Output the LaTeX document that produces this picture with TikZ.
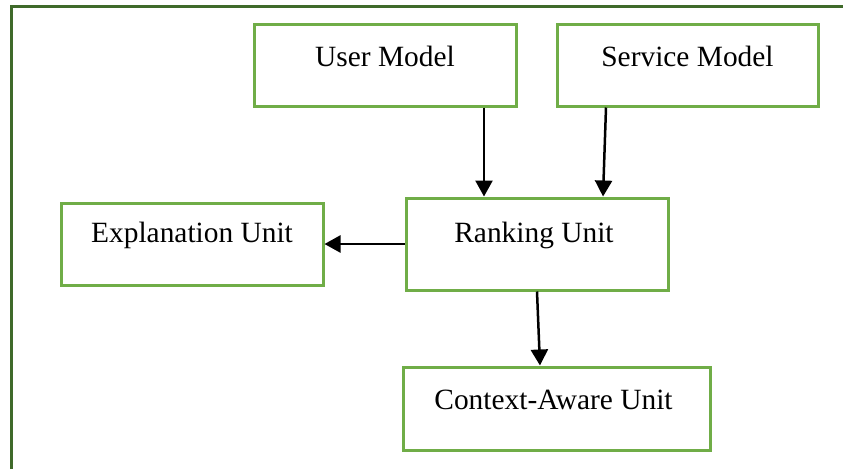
\documentclass[tikz,border=0pt]{standalone}
\usepackage{fontspec}
\setmainfont{Liberation Serif}
\usetikzlibrary{arrows.meta}
\definecolor{boxgreen}{HTML}{70AD47}
\definecolor{framegreen}{HTML}{3F6A2A}
\begin{document}
\begin{tikzpicture}[x=1pt,y=-1pt,
  box/.style={draw=boxgreen, line width=3pt, rectangle, inner sep=0pt},
  arr/.style={draw=black, line width=2.5pt, -{Triangle[length=16pt,width=17pt]}},
  lbl/.style={font=\fontsize{29.4}{34}\selectfont, inner sep=0pt, yshift=9pt}
]
\useasboundingbox (0,0) rectangle (843,469);
% outer frame (open at the bottom and the right)
\draw[framegreen, line width=3pt] (11,469) -- (11,6) -- (843,6);

% units
\node[box, minimum width=262pt, minimum height=82pt,
      label={[lbl]center:User Model}] (um) at (385,65) {};
\node[box, minimum width=261pt, minimum height=82pt,
      label={[lbl]center:Service Model}] (sm) at (687.5,65) {};
\node[box, minimum width=262pt, minimum height=92pt,
      label={[lbl, xshift=-3pt]center:Ranking Unit}] (rk) at (537,244) {};
\node[box, minimum width=262pt, minimum height=82pt,
      label={[lbl]center:Explanation Unit}] (ex) at (192,244) {};
\node[box, minimum width=307pt, minimum height=83pt,
      label={[lbl, xshift=-3pt]center:Context-Aware Unit}] (ctx) at (556.5,408.5) {};

% data flow
\draw[arr] ([xshift=99pt]um.south) -- ([xshift=-53pt]rk.north);
\draw[arr] ([xshift=-81.5pt]sm.south) -- ([xshift=66pt]rk.north);
\draw[arr] (rk.west) -- (ex.east);
\draw[arr] (rk.south) -- ([xshift=-16.5pt]ctx.north);
\end{tikzpicture}
\end{document}
